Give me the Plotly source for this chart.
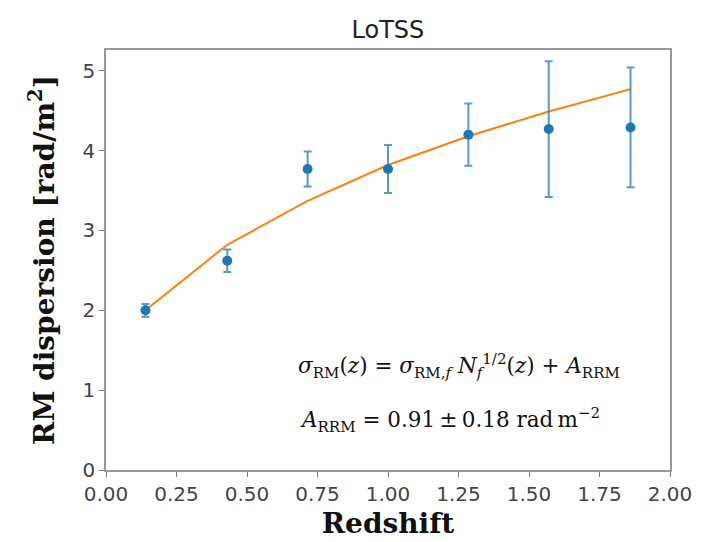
import plotly.graph_objects as go

redshift = [0.14, 0.43, 0.715, 1.0, 1.285, 1.57, 1.86]
rm_disp = [2.00, 2.62, 3.77, 3.77, 4.20, 4.27, 4.29]
rm_err = [0.08, 0.14, 0.22, 0.30, 0.39, 0.85, 0.75]
model = [2.00, 2.82, 3.37, 3.82, 4.18, 4.49, 4.77]
x_ticks = [0, 0.25, 0.5, 0.75, 1.0, 1.25, 1.5, 1.75, 2.0]
x_ticklabels = ["0.00", "0.25", "0.50", "0.75", "1.00", "1.25", "1.50", "1.75", "2.00"]
y_ticks = [0, 1, 2, 3, 4, 5]

fig = go.Figure()
fig.add_trace(go.Scatter(
    x=redshift, y=model, mode="lines",
    line=dict(color="#ff7f0e", width=2), showlegend=False))
fig.add_trace(go.Scatter(
    x=redshift, y=rm_disp, mode="markers",
    marker=dict(color="#1f77b4", size=10),
    error_y=dict(type="data", array=rm_err, visible=True,
                 color="rgba(31,119,180,0.75)", thickness=2, width=4),
    showlegend=False))

serif = "DejaVu Serif, serif"
fig.add_annotation(
    x=0.675, y=1.30, xref="x", yref="y", xanchor="left", yanchor="middle",
    text="<i>σ</i><sub>RM</sub>(<i>z</i>) = <i>σ</i><sub>RM,<i>f</i></sub> <i>N</i><sub><i>f</i></sub><sup>1/2</sup>(<i>z</i>) + <i>A</i><sub>RRM</sub>",
    showarrow=False, font=dict(family=serif, size=21.5, color="#111"))
fig.add_annotation(
    x=0.68, y=0.63, xref="x", yref="y", xanchor="left", yanchor="middle",
    text="<i>A</i><sub>RRM</sub> = 0.91\u2009±\u20090.18 rad\u2009m<sup>−2</sup>",
    showarrow=False, font=dict(family=serif, size=21.5, color="#111"))

axis_common = dict(
    showgrid=False, zeroline=False, showline=True, linecolor="#999",
    linewidth=1.5, mirror=True, ticks="outside", ticklen=5, automargin=False,
    tickcolor="#777", tickfont=dict(family="DejaVu Sans", size=20, color="#444"))

fig.update_xaxes(range=[0, 2.0], tickvals=x_ticks, ticktext=x_ticklabels,
                 title=dict(text="<b>Redshift</b>", font=dict(family=serif, size=28, color="#111"), standoff=9),
                 **axis_common)
fig.update_yaxes(range=[0, 5.26], tickvals=y_ticks,
                 title=dict(text="<b>RM dispersion [rad/m<sup>2</sup>]</b>", font=dict(family=serif, size=28, color="#111"), standoff=20),
                 **axis_common)

fig.update_layout(
    width=701, height=542,
    margin=dict(l=98, r=39, t=42, b=80),
    paper_bgcolor="white", plot_bgcolor="white",
    title=dict(text="LoTSS", x=0.542, xanchor="center", y=0.961, yanchor="middle",
               font=dict(family="DejaVu Sans", size=24, color="#222")),
)

fig.write_html("out.html")
